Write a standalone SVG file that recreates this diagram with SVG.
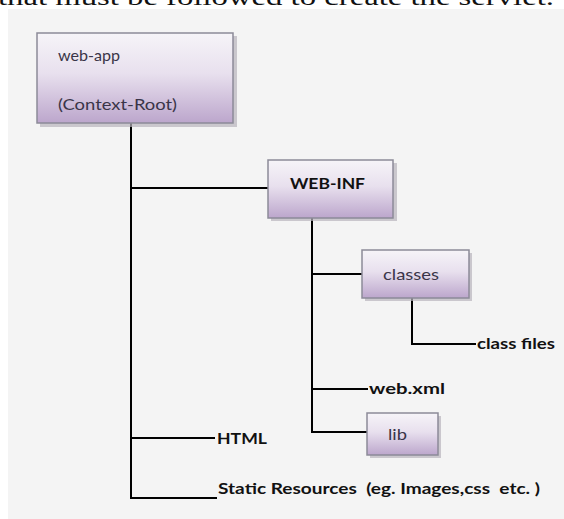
<svg xmlns="http://www.w3.org/2000/svg" width="564" height="519" viewBox="0 0 564 519">
<style>
.box{stroke:#8c8a98;stroke-width:1.5;fill:url(#g)}
.shadow{fill:#b8b4bc;opacity:0.7}
.lbl{font-family:Lato,"Open Sans","Liberation Sans",sans-serif;font-size:16px;fill:#3a3548}
.bold{font-family:Lato,"Open Sans","Liberation Sans",sans-serif;font-size:16px;font-weight:bold;fill:#111}
.ln{stroke:#000;stroke-width:2;fill:none}
</style>
<defs>
<linearGradient id="g" x1="0" y1="0" x2="0" y2="1">
<stop offset="0" stop-color="#f6f4f8"/>
<stop offset="0.45" stop-color="#e8e0ee"/>
<stop offset="1" stop-color="#bca6cc"/>
</linearGradient>
</defs>
<rect x="0" y="0" width="564" height="519" fill="#ffffff"/>
<rect x="8" y="9" width="556" height="510" fill="#f4f4f4"/>
<text x="-2" y="5" font-family="'Liberation Serif',serif" font-size="24" fill="#111" textLength="556" lengthAdjust="spacingAndGlyphs">that must be followed to create the servlet.</text>
<g id="connectors">
<path class="ln" d="M131 123 V498 H217"/>
<path class="ln" d="M131 188 H268"/>
<path class="ln" d="M131 438 H215"/>
<path class="ln" d="M312 218 V432 H367"/>
<path class="ln" d="M312 274 H362"/>
<path class="ln" d="M312 389 H368"/>
<path class="ln" d="M412 298 V344 H476"/>
</g>
<g id="web-app">
<rect class="shadow" x="40" y="36" width="197" height="91"/>
<rect class="box" x="37" y="33" width="196" height="90"/>
<text class="lbl" x="58" y="61" textLength="62" lengthAdjust="spacingAndGlyphs">web-app</text>
<text class="lbl" x="58" y="110" textLength="119" lengthAdjust="spacingAndGlyphs">(Context-Root)</text>
</g>
<g id="web-inf">
<rect class="shadow" x="271" y="163" width="126" height="58"/>
<rect class="box" x="268" y="160" width="125" height="58"/>
<text class="bold" x="290" y="189" textLength="75" lengthAdjust="spacingAndGlyphs" fill="#2a2535">WEB-INF</text>
</g>
<g id="classes">
<rect class="shadow" x="365" y="253" width="107" height="48"/>
<rect class="box" x="362" y="250" width="107" height="48"/>
<text class="lbl" x="383" y="280" textLength="56" lengthAdjust="spacingAndGlyphs">classes</text>
</g>
<g id="lib">
<rect class="shadow" x="370" y="416" width="71" height="42"/>
<rect class="box" x="367" y="413" width="71" height="42"/>
<text class="lbl" x="388" y="440" textLength="19" lengthAdjust="spacingAndGlyphs">lib</text>
</g>
<g id="class-files">
<text class="bold" x="477" y="349" textLength="78" lengthAdjust="spacingAndGlyphs">class files</text>
</g>
<g id="web-xml">
<text class="bold" x="369" y="394" textLength="76" lengthAdjust="spacingAndGlyphs">web.xml</text>
</g>
<g id="html">
<text class="bold" x="217" y="444" textLength="50" lengthAdjust="spacingAndGlyphs">HTML</text>
</g>
<g id="static">
<text class="bold" x="218" y="494" textLength="322" lengthAdjust="spacingAndGlyphs" xml:space="preserve">Static Resources  (eg. Images,css  etc. )</text>
</g>
</svg>
